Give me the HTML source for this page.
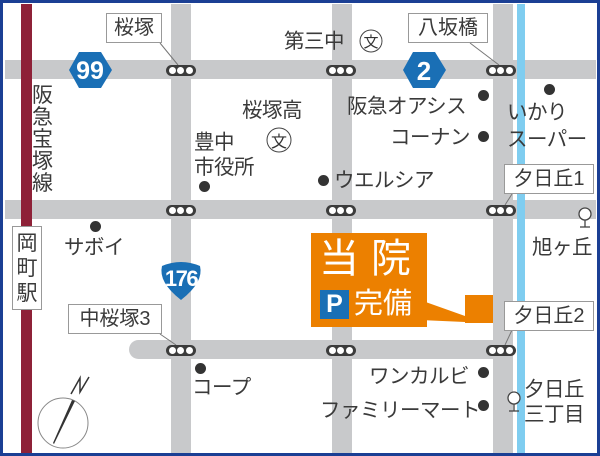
<!DOCTYPE html>
<html><head><meta charset="utf-8"><style>
*{margin:0;padding:0;box-sizing:border-box}
body{width:600px;height:456px;overflow:hidden;background:#fff;font-family:"Liberation Sans","Noto Sans CJK JP",sans-serif;color:#3a3a3a}
.a{position:absolute;white-space:nowrap}
.t{font-size:20.5px;line-height:21px;letter-spacing:-0.5px}
.box{position:absolute;background:#fff;border:1px solid #999;font-size:20px;line-height:28px;text-align:center}
.dot{position:absolute;width:11px;height:11px;border-radius:50%;background:#333}
</style></head><body>
<div class="a" style="left:0;top:0;width:600px;height:456px;border:3px solid #1b3f94"></div>
<div class="a" style="left:5px;top:60px;width:591px;height:19px;background:#c8c9cb"></div>
<div class="a" style="left:5px;top:200px;width:591px;height:19px;background:#c8c9cb"></div>
<div class="a" style="left:129px;top:340px;width:384px;height:19px;background:#c8c9cb;border-radius:10px 0 0 10px"></div>
<div class="a" style="left:171px;top:4px;width:20px;height:449px;background:#c8c9cb"></div>
<div class="a" style="left:332px;top:4px;width:20px;height:449px;background:#c8c9cb"></div>
<div class="a" style="left:493px;top:4px;width:20px;height:449px;background:#c8c9cb"></div>
<div class="a" style="left:517px;top:4px;width:8px;height:449px;background:#7fcdf0"></div>
<div class="a" style="left:21px;top:4px;width:11px;height:449px;background:#8e2138"></div>
<svg class="a" style="left:0;top:0" width="600" height="456">
<g stroke="#777" stroke-width="1" fill="none">
<line x1="160" y1="43" x2="178" y2="65"/><line x1="470" y1="43" x2="499" y2="65"/>
<line x1="512" y1="194" x2="505" y2="205"/><line x1="512" y1="330" x2="505" y2="345"/>
<line x1="160" y1="334" x2="176" y2="345"/>
</g>
<polygon points="69,70 79,52 101,52 112,70 101,88 79,88" fill="#1a6fb5"/>
<polygon points="403,70 413,52 435,52 446,70 435,88 413,88" fill="#1a6fb5"/>
<path d="M162,266 Q181,258 200,266 Q204,282 181,300 Q158,282 162,266Z" fill="#1a6fb5"/>
<circle cx="63" cy="423" r="25" fill="none" stroke="#888" stroke-width="1"/>
<polygon points="72,400 75,401 54,444 53,443" fill="#333"/>
<polyline points="71,394 80,378 80,392 89,377" fill="none" stroke="#333" stroke-width="1.5"/>
<g stroke="#444" fill="#fff" stroke-width="1.3"><circle cx="585" cy="214" r="6"/><line x1="585" y1="220" x2="585" y2="227"/><line x1="580" y1="227" x2="590" y2="227"/>
<circle cx="514" cy="398" r="6"/><line x1="514" y1="404" x2="514" y2="411"/><line x1="509" y1="411" x2="519" y2="411"/></g>
<polygon points="420,300 465,316 465,322 420,320" fill="#ec8000"/>
<rect x="465" y="295" width="28" height="28" fill="#ec8000"/>
<g font-family="Liberation Sans" font-weight="bold" fill="#fff" text-anchor="middle">
<text x="90" y="79" font-size="25">99</text><text x="424" y="80" font-size="26">2</text>
<text x="181" y="286" font-size="22" letter-spacing="-1.5">176</text></g>
<g fill="none" stroke="#444" stroke-width="1"><circle cx="279" cy="140" r="12"/><circle cx="371" cy="41" r="11"/></g>
<text x="279" y="147" font-size="16" text-anchor="middle" fill="#333" font-family="Noto Sans CJK JP">文</text>
<text x="371" y="47" font-size="15" text-anchor="middle" fill="#333" font-family="Noto Sans CJK JP">文</text>
</svg>
<div class="a" style="left:311px;top:233px;width:116px;height:94px;background:#ec8000"></div>
<div class="a" style="left:319px;top:236px;font-size:40px;line-height:46px;color:#fff;letter-spacing:12px">当院</div>
<div class="a" style="left:320px;top:290px;width:29px;height:29px;background:#1a6fb5;color:#fff;font-weight:bold;font-size:25px;line-height:29px;text-align:center">P</div>
<div class="a" style="left:354px;top:288px;font-size:29px;line-height:32px;color:#fff">完備</div>
<div id="lights"></div>
<div class="box" style="left:106px;top:13px;width:56px;height:30px">桜塚</div>
<div class="box" style="left:408px;top:13px;width:80px;height:30px">八坂橋</div>
<div class="box" style="left:504px;top:164px;width:90px;height:30px">夕日丘1</div>
<div class="box" style="left:504px;top:301px;width:90px;height:30px">夕日丘2</div>
<div class="box" style="left:68px;top:304px;width:94px;height:30px">中桜塚3</div>
<div class="box" style="left:12px;top:226px;width:30px;height:84px;line-height:25px;padding-top:4px;font-size:21px">岡<br>町<br>駅</div>
<div class="a" style="left:32px;top:85px;width:22px;line-height:22px;font-size:21px;white-space:normal">阪急宝塚線</div>
<div class="a t" style="left:284px;top:31px">第三中</div>
<div class="a t" style="left:242px;top:100px">桜塚高</div>
<div class="a t" style="left:194px;top:130px;line-height:25px">豊中<br>市役所</div>
<div class="dot" style="left:199px;top:181px"></div>
<div class="a t" style="left:347px;top:96px">阪急オアシス</div><div class="dot" style="left:478px;top:90px"></div>
<div class="a t" style="left:390px;top:127px">コーナン</div><div class="dot" style="left:478px;top:131px"></div>
<div class="dot" style="left:544px;top:84px"></div>
<div class="a t" style="left:507px;top:99px;line-height:27px">いかり<br>スーパー</div>
<div class="dot" style="left:318px;top:175px"></div><div class="a t" style="left:334px;top:170px">ウエルシア</div>
<div class="dot" style="left:90px;top:221px"></div><div class="a t" style="left:64px;top:237px">サボイ</div>
<div class="a t" style="left:532px;top:237px">旭ヶ丘</div>
<div class="dot" style="left:195px;top:363px"></div><div class="a t" style="left:192px;top:377px">コープ</div>
<div class="a t" style="left:369px;top:366px">ワンカルビ</div><div class="dot" style="left:478px;top:367px"></div>
<div class="a t" style="left:320px;top:400px">ファミリーマート</div><div class="dot" style="left:478px;top:400px"></div>
<div class="a t" style="left:524px;top:377px;line-height:25px">夕日丘<br>三丁目</div>
<script>
var h='';[[181,70],[341,70],[501,70],[181,210],[341,210],[501,210],[181,350],[341,350],[501,350]].forEach(function(p){
h+='<div class="a" style="left:'+(p[0]-15)+'px;top:'+(p[1]-5)+'px;width:30px;height:11px;border-radius:6px;background:#3c3c3c;display:flex;justify-content:space-around;align-items:center;padding:0 2px">'+'<i style="width:7px;height:7px;border-radius:50%;background:#fff"></i>'.repeat(3)+'</div>';});
document.getElementById('lights').innerHTML=h;
</script>
</body></html>
